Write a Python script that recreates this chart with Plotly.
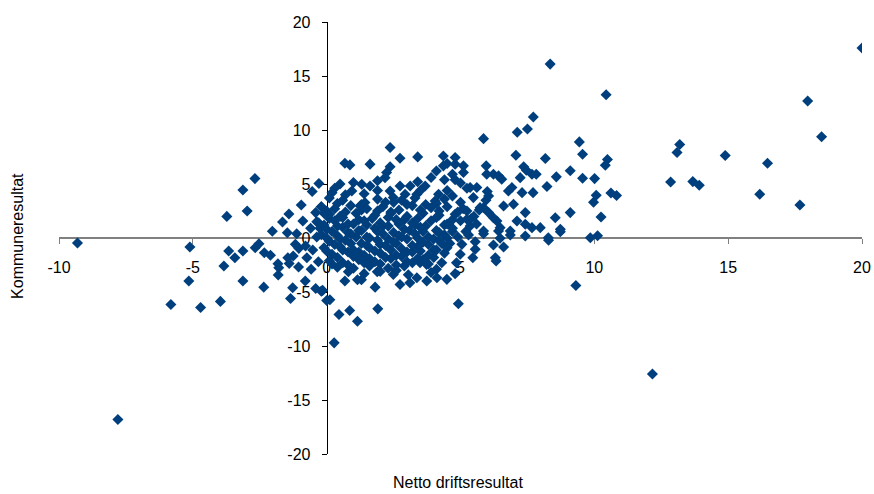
import plotly.graph_objects as go

# Far right points and outliers
x_far = [20.0, 10.44, 17.97, 18.49, 13.19, 13.09, 14.89, 10.49, 10.41, 16.47, 10.01, 12.85, 13.68, 13.92,
         16.18, 10.62, 10.83, 10.07, 9.97, 17.68, 10.25, 10.12, 9.85, -9.31, -7.8, 12.17, 8.35, 9.31]
y_far = [17.6, 13.27, 12.68, 9.37, 8.66, 7.91, 7.64, 7.27, 6.74, 6.93, 5.5, 5.19, 5.22, 4.89,
         4.05, 4.17, 3.93, 3.96, 3.31, 3.06, 1.95, 0.2, 0.03, -0.46, -16.8, -12.6, 16.1, -4.39]

# Left side (negative x)
x_left = [-2.68, -3.13, -2.97, -3.73, -5.11, -2.03, -1.65, -1.41, -0.95, -0.89, -0.54, -0.29, -1.47, -1.12,
          -3.66, -3.43, -3.13, -2.67, -2.53, -2.33, -2.1, -1.82, -1.79, -1.81, -3.84, -5.15, -3.13, -2.35,
          -5.82, -4.71, -3.97, -1.45, -1.25, -1.4, -1.05, -1.17, -1.04, -0.79, -0.52, -0.74, -0.58, -0.31,
          -0.8, -1.27, -1.35, -0.41, -0.2, -0.37, -0.41, -0.37, -0.25, -0.15, -0.2, -0.1, -0.6]
y_left = [5.5, 4.45, 2.5, 2.0, -0.83, 0.62, 1.48, 2.23, 3.06, 1.58, 4.3, 5.04, 0.49, 0.4,
          -1.2, -1.83, -1.2, -0.9, -0.53, -1.36, -1.6, -2.38, -2.75, -3.43, -2.6, -3.99, -3.99, -4.55,
          -6.15, -6.43, -5.87, -1.83, -1.67, -2.35, -2.69, -0.59, -0.96, -0.74, -1.11, -1.83, -2.9, -2.2,
          -3.99, -4.61, -5.6, -4.67, -4.92, 0.09, 2.35, 1.5, 0.9, -4.85, 2.9, 2.3, 0.9]

# Lower points (x 0-5, y below -3)
x_low = [0.0, 0.12, 0.46, 0.86, 1.15, 1.91, 0.28, 0.68, 0.81, 1.15, 1.3, 1.81, 1.89, 2.49, 2.74, 3.05,
         3.11, 3.37, 3.74, 4.12, 4.49, 3.49, 3.73, 4.92]
y_low = [-5.78, -5.72, -7.08, -6.71, -7.7, -6.56, -9.71, -3.99, -3.12, -3.87, -3.87, -4.55, -3.12, -3.37,
         -4.3, -3.4, -4.14, -3.68, -3.99, -3.68, -3.83, -2.29, -2.44, -6.09]

# Right-middle (x 5-10)
x_mid = [5.86, 9.44, 7.07, 8.17, 9.56, 7.72, 7.5, 7.12, 5.11, 5.11, 5.96, 6.23, 5.98, 6.42, 6.54, 7.36,
         7.46, 7.67, 7.83, 7.23, 8.58, 9.1, 9.56, 8.23, 7.71, 7.3, 6.92, 6.79, 6.98, 6.61, 7.42, 8.54,
         9.1, 7.11, 7.42, 7.67, 7.98, 8.73, 8.28, 5.86, 6.48, 6.42, 6.86, 5.36, 5.61, 5.48, 6.0, 6.05,
         5.95, 5.73, 5.86, 6.05, 6.23, 6.36, 5.24, 5.24, 5.36, 6.33, 6.3, 6.61, 6.23, 5.46, 5.55, 5.55,
         5.05, 4.99, 4.85, 4.8, 8.29, 8.73, 7.42, 6.86, 5.86, 5.3, 6.48]
y_mid = [9.2, 8.9, 7.67, 7.36, 7.76, 11.2, 10.1, 9.8, 6.68, 6.06, 6.68, 5.91, 5.91, 5.75, 5.45, 6.59,
         6.28, 5.91, 5.91, 5.59, 5.66, 6.22, 5.54, 4.76, 4.2, 4.2, 4.67, 4.36, 3.13, 2.97, 2.35, 1.88,
         2.35, 1.58, 1.27, 0.96, 0.96, 0.8, 0.03, 0.65, 0.96, 0.65, 0.65, 4.67, 4.67, 3.74, 4.3, 3.9,
         3.5, 2.81, 2.81, 2.35, 1.88, 1.58, 2.5, 1.73, 1.11, -2.13, -1.83, -0.83, -0.65, -1.83, -1.05, -0.34,
         -0.59, -1.51, -2.3, -3.3, -0.21, 0.58, 0.19, 0.28, 0.4, 0.28, -0.03]

# Upper (x 0-5, y 4-9)
x_up = [2.37, 2.74, 3.4, 4.36, 4.8, 4.36, 4.5, 4.8, 0.68, 0.87, 1.62, 2.37, 2.24, 2.18, 1.0, 1.31,
        1.62, 0.94, 2.74, 3.12, 3.68, 3.37, 2.37, 2.49, 2.93, 4.18, 4.05, 4.8, 5.0, 5.24, 1.25, 1.43,
        4.7, 4.4, 3.9, 3.4, 4.1, 0.3, 0.5, 1.9, 0.2, 0.7, 1.4, 1.9, 3.5, 4.5]
y_up = [8.38, 7.39, 7.51, 7.6, 7.45, 6.68, 6.9, 6.84, 6.93, 6.77, 6.84, 6.59, 6.06, 5.59, 5.13, 4.98,
        4.82, 4.36, 4.82, 4.82, 4.82, 4.05, 4.36, 3.74, 4.05, 4.05, 3.43, 5.4, 5.1, 4.6, 2.97, 3.28,
        5.9, 5.4, 5.6, 5.2, 6.2, 4.6, 5.0, 5.3, 4.2, 4.0, 4.1, 4.4, 4.4, 4.4]

# Dense core, first layer
x_core = [0.1, 0.6, 1.9, 2.2, 2.8, 3.3, 3.7, 4.4, 4.7, 5.0,
          -0.2, 0.3, 0.9, 1.5, 2.1, 2.7, 3.2, 3.9, 4.5, 5.1,
          0.1, 0.5, 1.1, 1.8, 2.4, 3.0, 3.6, 4.2, 4.8, 5.5,
          -0.3, 0.3, 0.8, 1.4, 2.0, 2.6, 3.2, 3.9, 4.5, 5.0,
          0.0, 0.6, 1.2, 1.8, 2.3, 2.9, 3.5, 4.1, 4.7, 5.2,
          -0.2, 0.4, 0.9, 1.5, 2.1, 2.7, 3.3, 3.8, 4.4, 4.9,
          0.1, 0.7, 1.3, 1.9, 2.5, 3.0, 3.6, 4.2, 4.6,
          -0.1, 0.5, 1.0, 1.6, 2.2, 2.8, 3.4, 4.0, 4.5,
          0.2, 0.8, 1.4, 2.0, 2.6, 3.2, 3.8, 4.4,
          0.1, 0.6, 1.2, 1.8, 2.4, 3.0, 3.6, 4.3,
          0.4, 1.0, 1.6, 2.3, 2.9, 4.1,
          1.4, 2.0, 2.6, 3.9]
y_core = [3.7, 3.5, 3.6, 3.3, 3.5, 3.7, 3.1, 3.6, 3.9, 3.3,
          2.9, 2.7, 3.0, 2.7, 2.9, 2.6, 3.0, 2.8, 2.9, 2.7,
          2.2, 2.0, 2.3, 2.1, 2.3, 2.0, 2.3, 2.1, 2.2, 2.0,
          1.4, 1.6, 1.3, 1.6, 1.4, 1.7, 1.4, 1.6, 1.3, 1.6,
          0.8, 1.0, 0.7, 0.9, 1.1, 0.8, 1.0, 0.7, 0.9, 0.6,
          0.3, 0.2, 0.4, 0.1, 0.4, 0.2, 0.4, 0.1, 0.3, 0.1,
          -0.3, -0.2, -0.5, -0.2, -0.4, -0.1, -0.4, -0.2, -0.5,
          -0.9, -0.8, -1.1, -0.9, -0.7, -1.0, -0.8, -1.1, -0.9,
          -1.5, -1.3, -1.6, -1.4, -1.6, -1.3, -1.6, -1.4,
          -2.1, -2.3, -2.0, -2.2, -1.9, -2.2, -2.0, -2.3,
          -2.7, -2.8, -2.6, -2.8, -2.6, -2.9,
          -3.3, -3.1, -3.0, -3.2]

# Dense core, second layer
x_core2 = [0.4, 1.3, 2.5, 3.0, 4.1,
           0.0, 0.7, 1.3, 1.9, 2.4, 3.5, 4.2, 4.9, 5.7,
           0.1, 0.6, 1.2, 1.7, 2.3, 2.9, 3.4, 4.1, 4.7, 5.4,
           -0.1, 0.4, 1.0, 1.5, 2.1, 2.7, 3.3, 3.7, 4.4, 5.6,
           0.2, 0.8, 1.3, 1.9, 2.5, 3.1, 3.6, 4.2, 4.7,
           0.0, 0.5, 1.1, 1.6, 2.3, 2.8, 3.4, 4.0, 4.5,
           0.3, 0.9, 1.5, 2.0, 2.6, 3.2, 3.8, 4.3,
           0.0, 0.6, 1.2, 1.8, 2.4, 3.0, 3.5, 4.1,
           0.4, 1.0, 1.6, 2.2, 2.8, 3.4, 4.0,
           0.2, 0.8, 1.4, 2.0, 2.6, 3.2, 3.8]
y_core2 = [3.2, 3.1, 3.3, 3.1, 3.2,
           2.5, 2.4, 2.6, 2.5, 2.4, 2.6, 2.5, 2.4, 2.6,
           1.8, 1.9, 1.7, 1.8, 1.9, 1.7, 1.8, 1.9, 1.7, 1.8,
           1.2, 1.1, 1.3, 1.2, 1.1, 1.3, 1.2, 1.1, 1.2, 1.3,
           0.6, 0.5, 0.7, 0.6, 0.5, 0.7, 0.6, 0.5, 0.6,
           0.0, -0.1, 0.1, 0.0, -0.1, 0.1, 0.0, -0.1, 0.0,
           -0.6, -0.5, -0.7, -0.6, -0.5, -0.7, -0.6, -0.5,
           -1.2, -1.1, -1.3, -1.2, -1.1, -1.3, -1.2, -1.1,
           -1.8, -1.7, -1.9, -1.8, -1.7, -1.9, -1.8,
           -2.4, -2.5, -2.3, -2.4, -2.5, -2.3, -2.4]

x_ticks = [-10, -5, 0, 5, 10, 15, 20]
y_ticks = [-20, -15, -10, -5, 0, 5, 10, 15, 20]

xs = x_far + x_left + x_low + x_mid + x_up + x_core + x_core2
ys = y_far + y_left + y_low + y_mid + y_up + y_core + y_core2

FONT = "Liberation Sans, Arial, sans-serif"

fig = go.Figure()
fig.add_trace(go.Scatter(
    x=xs, y=ys, mode="markers",
    marker=dict(symbol="diamond", size=8.5, color="#003F7D", line=dict(width=0)),
    hoverinfo="x+y", showlegend=False,
))

fig.update_layout(
    width=874, height=494, autosize=False,
    margin=dict(l=59, r=12, t=22, b=40, autoexpand=False),
    paper_bgcolor="white", plot_bgcolor="white",
    font=dict(family=FONT, size=16, color="black"),
    xaxis=dict(
        range=[-10, 20], tickvals=x_ticks, ticktext=[str(v) for v in x_ticks],
        anchor="free", position=0.5, showgrid=False, zeroline=False,
        showline=True, linecolor="#808080", linewidth=2,
        ticks="outside", ticklen=5, tickcolor="#808080", tickwidth=1,
        ticklabelstandoff=10,
        layer="below traces", tickfont=dict(size=16), automargin=False,
    ),
    yaxis=dict(
        range=[-20, 20], tickvals=y_ticks, ticktext=[str(v) for v in y_ticks],
        anchor="free", position=1/3, showgrid=False, zeroline=False,
        showline=True, linecolor="black", linewidth=1,
        ticks="outside", ticklen=5, tickcolor="black", tickwidth=1,
        ticklabelstandoff=8,
        layer="below traces", tickfont=dict(size=16), automargin=False,
    ),
    annotations=[
        dict(text="Netto driftsresultat", xref="paper", yref="paper", x=0.497, y=-0.067,
             xanchor="center", yanchor="middle", showarrow=False, font=dict(size=16)),
        dict(text="Kommuneresultat", xref="paper", yref="paper", x=-0.051, y=0.505,
             xanchor="center", yanchor="middle", textangle=-90, showarrow=False, font=dict(size=16)),
    ],
)

fig.write_html(
    "out.html",
    config={"responsive": False, "displayModeBar": False},
    post_script="document.body.style.margin='0';document.body.style.overflow='hidden';",
)
